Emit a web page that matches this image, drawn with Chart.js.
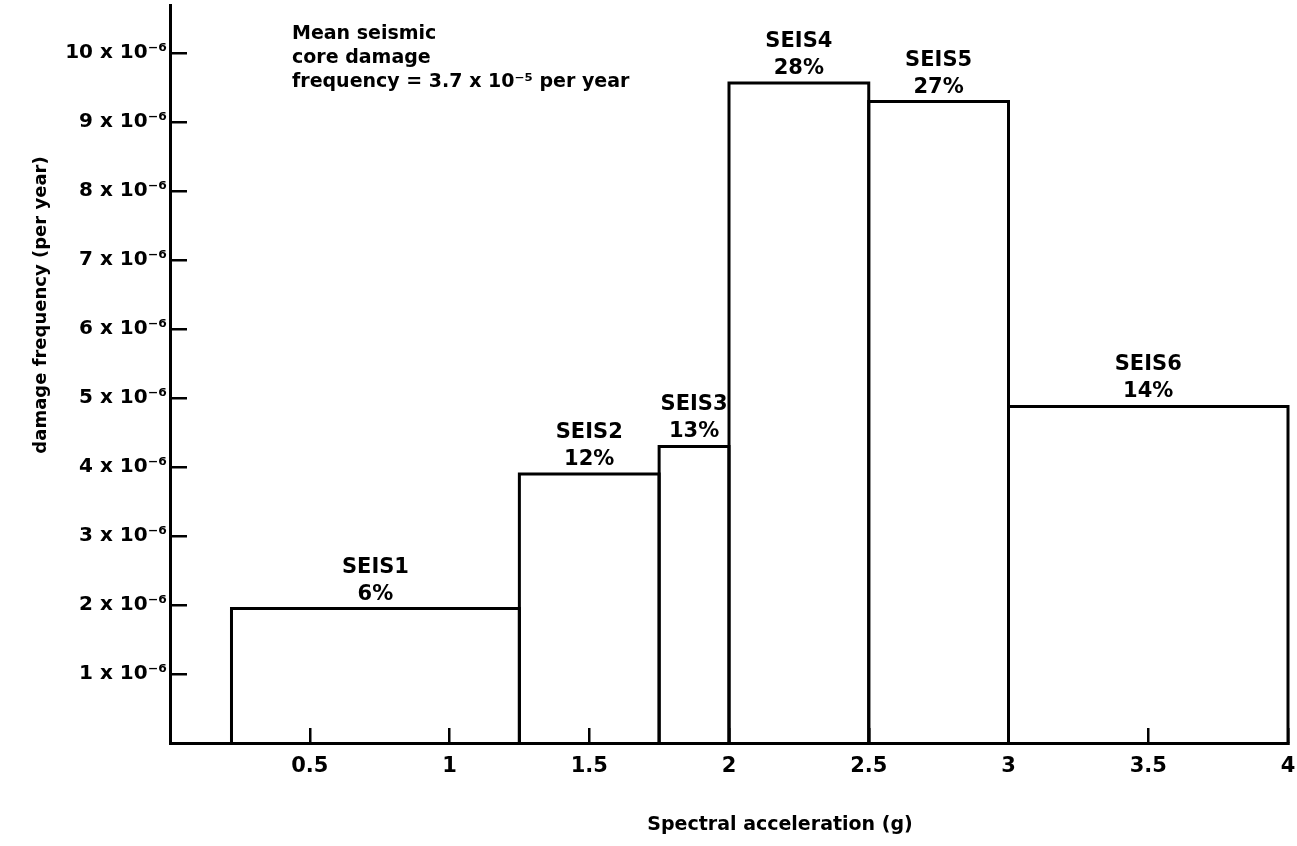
<!DOCTYPE html>
<html>
<head>
<meta charset="utf-8">
<script src="https://cdn.jsdelivr.net/npm/chart.js@4"></script>
<style>
  html, body { margin: 0; padding: 0; background: #ffffff; }
  #wrap { width: 1297px; height: 846px; }
</style>
</head>
<body>
<div id="wrap"><canvas id="c" width="1297" height="846"></canvas></div>
<script>
// ---- data ----
const categories = ['SEIS1', 'SEIS2', 'SEIS3', 'SEIS4', 'SEIS5', 'SEIS6'];
const binEdges = [0.22, 1.25, 1.75, 2.0, 2.5, 3.0, 4.0];          // spectral acceleration (g)
const frequencies = [1.95, 3.9, 4.3, 9.57, 9.3, 4.88];              // x 10^-6 per year
const shares = ['6%', '12%', '13%', '28%', '27%', '14%'];
const xTickValues = [0.5, 1, 1.5, 2, 2.5, 3, 3.5, 4];
const xTickLabels = ['0.5', '1', '1.5', '2', '2.5', '3', '3.5', '4'];
const yTickValues = [1, 2, 3, 4, 5, 6, 7, 8, 9, 10];
const yTickLabels = ['1 x 10\u207B\u2076', '2 x 10\u207B\u2076', '3 x 10\u207B\u2076', '4 x 10\u207B\u2076',
  '5 x 10\u207B\u2076', '6 x 10\u207B\u2076', '7 x 10\u207B\u2076', '8 x 10\u207B\u2076',
  '9 x 10\u207B\u2076', '10 x 10\u207B\u2076'];
const noteLines = ['Mean seismic', 'core damage', 'frequency = 3.7 x 10\u207B\u2075 per year'];
const xTitle = 'Spectral acceleration (g)';
const yTitle = 'damage frequency (per year)';

const FONT = "'DejaVu Sans', 'Liberation Sans', sans-serif";

// one closed outline per bin, built from the arrays
const datasets = categories.map((name, i) => ({
  label: name,
  data: [
    { x: binEdges[i], y: 0 },
    { x: binEdges[i], y: frequencies[i] },
    { x: binEdges[i + 1], y: frequencies[i] },
    { x: binEdges[i + 1], y: 0 }
  ],
  showLine: true,
  borderColor: '#000000',
  borderWidth: 3,
  pointRadius: 0,
  fill: false,
  tension: 0,
  borderJoinStyle: 'miter',
  borderCapStyle: 'butt',
  clip: false
}));

const textPlugin = {
  id: 'texts',
  afterDraw(chart) {
    const ctx = chart.ctx;
    const xs = chart.scales.x, ys = chart.scales.y;
    ctx.save();
    ctx.fillStyle = '#000';
    // bar labels
    ctx.font = 'bold 21px ' + FONT;
    ctx.textAlign = 'center';
    ctx.textBaseline = 'alphabetic';
    categories.forEach((name, i) => {
      const cx = xs.getPixelForValue((binEdges[i] + binEdges[i + 1]) / 2);
      const top = ys.getPixelForValue(frequencies[i]);
      ctx.fillText(shares[i], cx, top - 9);
      ctx.fillText(name, cx, top - 36);
    });
    // note
    ctx.font = 'bold 19px ' + FONT;
    ctx.textAlign = 'left';
    noteLines.forEach((t, k) => ctx.fillText(t, 292, 39 + k * 24));
    // x title
    ctx.font = 'bold 19px ' + FONT;
    ctx.textAlign = 'center';
    ctx.textBaseline = 'middle';
    ctx.fillText(xTitle, 780, 825);
    // y title
    ctx.translate(41, 305);
    ctx.rotate(-Math.PI / 2);
    ctx.font = 'bold 18px ' + FONT;
    ctx.fillText(yTitle, 0, 0);
    ctx.restore();
  }
};

new Chart(document.getElementById('c'), {
  type: 'scatter',
  data: { datasets },
  options: {
    responsive: false,
    animation: false,
    devicePixelRatio: 1,
    layout: { padding: { left: 0, top: 5, right: 9, bottom: 0 } },
    plugins: { legend: { display: false }, tooltip: { enabled: false } },
    scales: {
      x: {
        type: 'linear',
        min: 0,
        max: 4,
        afterBuildTicks: (s) => { s.ticks = xTickValues.map(v => ({ value: v })); },
        afterFit: (s) => { s.height = 103; s.paddingLeft = 0; s.paddingRight = 0; },
        ticks: {
          autoSkip: false,
          maxRotation: 0,
          padding: 26,
          color: '#000',
          font: { family: FONT, size: 21, weight: 'bold' },
          callback: (v, i) => xTickLabels[i]
        },
        grid: { display: true, drawOnChartArea: false, drawTicks: true, tickLength: -15, color: '#000', lineWidth: 2.5 },
        border: { display: true, color: '#000', width: 3 },
        title: { display: false }
      },
      y: {
        type: 'linear',
        min: 0,
        max: 10.7,
        afterBuildTicks: (s) => { s.ticks = yTickValues.map(v => ({ value: v })); },
        afterFit: (s) => { s.width = 170; s.paddingTop = 0; s.paddingBottom = 0; },
        ticks: {
          autoSkip: false,
          padding: 20,
          color: '#000',
          font: { family: FONT, size: 20, weight: 'bold' },
          callback: (v, i) => yTickLabels[i]
        },
        grid: { display: true, drawOnChartArea: false, drawTicks: true, tickLength: -17, color: '#000', lineWidth: 2.5 },
        border: { display: true, color: '#000', width: 3 },
        title: { display: false }
      }
    }
  },
  plugins: [textPlugin]
});
</script>
</body>
</html>
